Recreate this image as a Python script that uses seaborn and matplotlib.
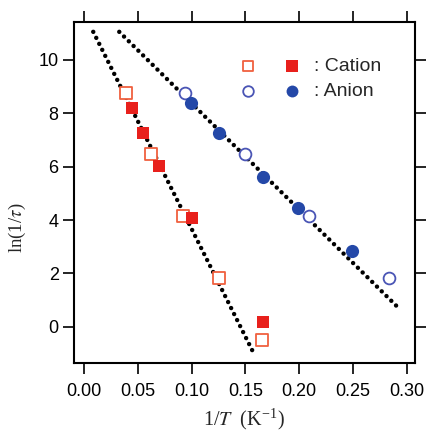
import numpy as np
import matplotlib
matplotlib.use("Agg")
import matplotlib.pyplot as plt
import seaborn as sns
from matplotlib.legend_handler import HandlerTuple

# cation data (1/T, ln(1/tau))
cat_open_x = [0.039, 0.062, 0.092, 0.125, 0.165]
cat_open_y = [8.76, 6.46, 4.15, 1.82, -0.50]
cat_fill_x = [0.044, 0.055, 0.070, 0.100, 0.166]
cat_fill_y = [8.20, 7.24, 6.03, 4.06, 0.20]

# anion data
an_open_x = [0.094, 0.150, 0.209, 0.284]
an_open_y = [8.77, 6.46, 4.16, 1.82]
an_fill_x = [0.099, 0.125, 0.166, 0.199, 0.249]
an_fill_y = [8.36, 7.24, 5.60, 4.44, 2.84]

# fitted lines (end points)
cat_fit_x = [0.0084, 0.158]
cat_fit_y = [11.04, -1.01]
an_fit_x = [0.0326, 0.2937]
an_fit_y = [11.04, 0.66]

sns.set_style("ticks")
plt.rcParams['font.family'] = ['Liberation Sans', 'DejaVu Sans']
plt.rcParams['mathtext.fontset'] = 'stix'

fig = plt.figure(figsize=(4.29, 4.32), dpi=100)
ax = fig.add_axes([0.1725, 0.159, 0.7945, 0.789])

dot = (0, (0.01, 1.5))
sns.lineplot(x=cat_fit_x, y=cat_fit_y, ax=ax, color='black', lw=3.2,
             linestyle=dot, dash_capstyle='round', zorder=1)
sns.lineplot(x=an_fit_x, y=an_fit_y, ax=ax, color='black', lw=3.2,
             linestyle=dot, dash_capstyle='round', zorder=1)

red_open = '#f0603f'
red_fill = '#e8201c'
blue_open = '#4a55b5'
blue_fill = '#2448a8'

h1 = ax.scatter(cat_open_x, cat_open_y, marker='s', s=72, facecolor='white',
                edgecolor=red_open, linewidth=1.3, zorder=3)
h2 = ax.scatter(cat_fill_x, cat_fill_y, marker='s', s=85, color=red_fill,
                linewidth=0, zorder=3)
h3 = ax.scatter(an_open_x, an_open_y, marker='o', s=72, facecolor='white',
                edgecolor=blue_open, linewidth=1.3, zorder=3)
h4 = ax.scatter(an_fill_x, an_fill_y, marker='o', s=90, color=blue_fill,
                linewidth=0, zorder=3)

ax.legend([(h1, h2), (h3, h4)], [': Cation', ': Anion'],
          handler_map={tuple: HandlerTuple(ndivide=None, pad=1.24)},
          loc='upper left', bbox_to_anchor=(0.481, 0.898), frameon=False,
          fontsize=14, handlelength=3.29, handletextpad=0.62,
          labelspacing=0.38, borderaxespad=0, borderpad=0, markerscale=0.9)

ax.set_xlim(-0.0095, 0.3076)
ax.set_ylim(-1.36, 11.39)
ax.set_xticks(np.arange(0, 0.31, 0.05))
ax.set_yticks([0, 2, 4, 6, 8, 10])
ax.xaxis.set_major_formatter(matplotlib.ticker.FormatStrFormatter('%.2f'))

for s in ax.spines.values():
    s.set_linewidth(1.5)
    s.set_color('black')
ax.tick_params(axis='both', which='both', direction='out', length=8,
               width=1.2, labelsize=13, top=True, right=True, colors='black',
               pad=3)
ax.tick_params(axis='x', pad=6)

ax.set_xlabel(r'1/$\mathit{T}$  (K$^{\mathregular{-1}}$)', family='Liberation Serif',
              fontsize=14.5, labelpad=5)
ax.set_ylabel(r'ln(1/$\mathit{\tau}$)', family='Liberation Serif',
              fontsize=13.5)
ax.yaxis.set_label_coords(-0.136, 0.397)

fig.savefig('out.png', dpi=100)
